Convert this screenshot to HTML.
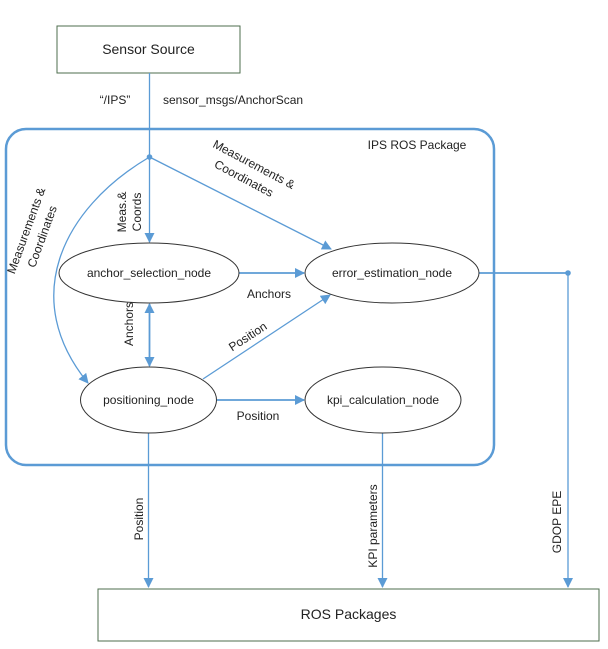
<!DOCTYPE html>
<html><head><meta charset="utf-8"><style>
html,body{margin:0;padding:0;background:#fff}
svg{display:block}
text{font-family:"Liberation Sans",sans-serif;font-size:12px;fill:#222}
</style></head><body>
<svg width="608" height="649" viewBox="0 0 608 649" xmlns="http://www.w3.org/2000/svg">
<defs>
<marker id="a" markerWidth="10" markerHeight="10" refX="9" refY="5" orient="auto" markerUnits="userSpaceOnUse">
<path d="M0,0 L10,5 L0,10 z" fill="#5b9bd5"/></marker>
<marker id="s" markerWidth="10" markerHeight="10" refX="1" refY="5" orient="auto" markerUnits="userSpaceOnUse">
<path d="M10,0 L0,5 L10,10 z" fill="#5b9bd5"/></marker>
</defs>
<rect x="57" y="26" width="183" height="47" fill="#fff" stroke="#4e6e4e" stroke-width="1"/>
<text x="148.5" y="54" text-anchor="middle" style="font-size:14px">Sensor Source</text>
<rect x="6" y="129" width="488" height="336" rx="20" fill="none" stroke="#5b9bd5" stroke-width="2.5"/>
<text x="417" y="149" text-anchor="middle">IPS ROS Package</text>
<text x="115" y="104" text-anchor="middle">“/IPS”</text>
<text x="163" y="104">sensor_msgs/AnchorScan</text>
<g stroke="#5b9bd5" stroke-width="1.3" fill="none">
<line x1="149.5" y1="73" x2="149.5" y2="157"/>
<line x1="149.5" y1="157" x2="149.5" y2="242" marker-end="url(#a)"/>
<line x1="149.5" y1="157" x2="331" y2="249" marker-end="url(#a)"/>
<path d="M149.5,157 C60,210 20,300 88,383" marker-end="url(#a)"/>
<line x1="238" y1="273" x2="304" y2="273" marker-end="url(#a)" stroke-width="1.8"/>
<line x1="149.5" y1="304" x2="149.5" y2="366" marker-start="url(#s)" marker-end="url(#a)" stroke-width="1.8"/>
<line x1="203" y1="379" x2="330" y2="295" marker-end="url(#a)"/>
<line x1="217" y1="400" x2="304" y2="400" marker-end="url(#a)" stroke-width="1.8"/>
<line x1="478" y1="273" x2="568" y2="273" stroke-width="1.8"/>
<line x1="568" y1="273" x2="568" y2="587" marker-end="url(#a)"/>
<line x1="148.5" y1="433" x2="148.5" y2="587" marker-end="url(#a)"/>
<line x1="382.5" y1="430" x2="382.5" y2="587" marker-end="url(#a)"/>
</g>
<circle cx="149.5" cy="157" r="2.8" fill="#5b9bd5"/>
<circle cx="568" cy="273" r="2.8" fill="#5b9bd5"/>
<g fill="#fff" stroke="#333" stroke-width="1">
<ellipse cx="149" cy="273" rx="90" ry="30"/>
<ellipse cx="392" cy="273" rx="87" ry="30"/>
<ellipse cx="148.5" cy="400" rx="68" ry="33"/>
<ellipse cx="383" cy="400" rx="78" ry="33"/>
</g>
<text x="149" y="277" text-anchor="middle">anchor_selection_node</text>
<text x="392" y="277" text-anchor="middle">error_estimation_node</text>
<text x="148.5" y="404" text-anchor="middle">positioning_node</text>
<text x="383" y="404" text-anchor="middle">kpi_calculation_node</text>
<text x="269" y="298" text-anchor="middle">Anchors</text>
<text x="258" y="420" text-anchor="middle">Position</text>
<text transform="translate(133,324) rotate(-90)" text-anchor="middle">Anchors</text>
<text transform="translate(250,340) rotate(-33)" text-anchor="middle">Position</text>
<text transform="translate(126,212) rotate(-90)" text-anchor="middle">Meas.&amp;</text>
<text transform="translate(141,212) rotate(-90)" text-anchor="middle">Coords</text>
<text transform="translate(252,168) rotate(28)" text-anchor="middle">Measurements &amp;</text>
<text transform="translate(242,182) rotate(28)" text-anchor="middle">Coordinates</text>
<text transform="translate(30,232) rotate(-70)" text-anchor="middle">Measurements &amp;</text>
<text transform="translate(46,238) rotate(-70)" text-anchor="middle">Coordinates</text>
<text transform="translate(143,519) rotate(-90)" text-anchor="middle">Position</text>
<text transform="translate(377,526) rotate(-90)" text-anchor="middle">KPI parameters</text>
<text transform="translate(561,522) rotate(-90)" text-anchor="middle">GDOP EPE</text>
<rect x="98" y="589" width="501" height="52" fill="#fff" stroke="#4e6e4e" stroke-width="1"/>
<text x="348.5" y="619" text-anchor="middle" style="font-size:14px">ROS Packages</text>
</svg>
</body></html>
